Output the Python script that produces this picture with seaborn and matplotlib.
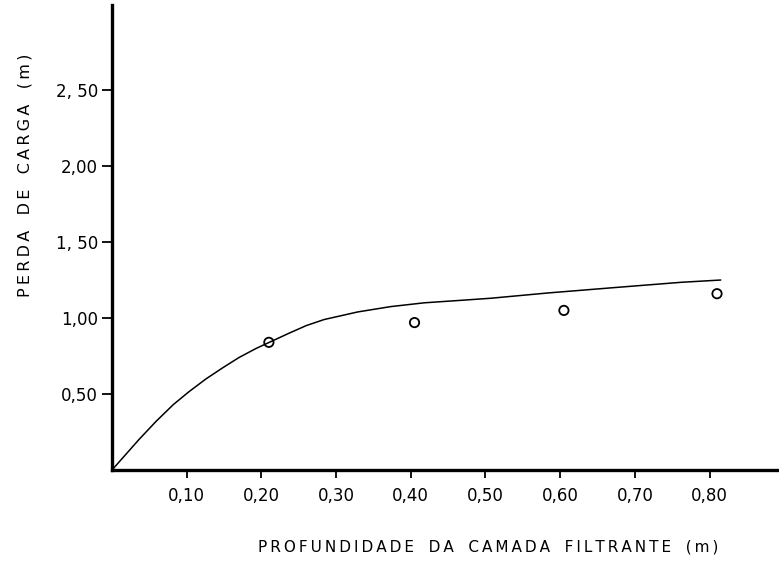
import matplotlib
matplotlib.use("Agg")
import matplotlib.pyplot as plt
import seaborn as sns
import pandas as pd

# measured points (depth of filter bed vs head loss)
depth_pts = [0.21, 0.405, 0.605, 0.81]
loss_pts = [0.84, 0.97, 1.05, 1.16]

# hand-drawn curve
depth_curve = [0.0, 0.036, 0.059, 0.082, 0.103, 0.126, 0.149, 0.170, 0.193, 0.237, 0.260,
               0.284, 0.329, 0.373, 0.418, 0.463, 0.507, 0.584, 0.672, 0.762, 0.815]
loss_curve = [0.0, 0.20, 0.32, 0.43, 0.515, 0.60, 0.675, 0.74, 0.80, 0.90, 0.95,
              0.99, 1.04, 1.075, 1.10, 1.115, 1.13, 1.165, 1.20, 1.235, 1.25]

x_ticks = [0.10, 0.20, 0.30, 0.40, 0.50, 0.60, 0.70, 0.80]
x_labels = ["0,10", "0,20", "0,30", "0,40", "0,50", "0,60", "0,70", "0,80"]
y_ticks = [0.50, 1.00, 1.50, 2.00, 2.50]
y_labels = ["0,50", "1,00", "1, 50", "2,00", "2, 50"]


def spaced(s):
    # old typewriter style lettering: thin space between letters
    words = s.split(" ")
    return "   ".join("\u2009".join(w) for w in words)


sns.set_style("ticks")
plt.rcParams["font.family"] = ["DejaVu Sans"]
plt.rcParams["text.color"] = "black"
plt.rcParams["xtick.color"] = "black"
plt.rcParams["ytick.color"] = "black"
plt.rcParams["axes.labelcolor"] = "black"
plt.rcParams["axes.edgecolor"] = "black"

df_curve = pd.DataFrame({"depth": depth_curve, "loss": loss_curve})
df_pts = pd.DataFrame({"depth": depth_pts, "loss": loss_pts})

fig = plt.figure(figsize=(7.79, 5.64), dpi=100)
ax = fig.add_axes([0.1438, 0.1667, 0.8562, 0.8245])

sns.lineplot(data=df_curve, x="depth", y="loss", color="black", linewidth=1.1, ax=ax)
sns.scatterplot(
    data=df_pts,
    x="depth",
    y="loss",
    s=45,
    facecolors="none",
    edgecolor="black",
    linewidth=1.3,
    ax=ax,
)

ax.set_xlim(0, 0.893)
ax.set_ylim(0, 3.06)
ax.set_xticks(x_ticks)
ax.set_xticklabels(x_labels)
ax.set_yticks(y_ticks)
ax.set_yticklabels(y_labels)

sns.despine(ax=ax)
ax.spines["left"].set_linewidth(2.4)
ax.spines["bottom"].set_linewidth(2.4)
ax.tick_params(axis="x", direction="out", length=6, width=1.3, pad=6, labelsize=12)
ax.tick_params(axis="y", direction="out", length=7, width=1.3, pad=3, labelsize=12)

ax.set_xlabel(spaced("PROFUNDIDADE DA CAMADA FILTRANTE (m)"), fontsize=11)
ax.set_ylabel(spaced("PERDA DE CARGA (m)"), fontsize=11.5)
ax.xaxis.set_label_coords((488 - 112) / 667, -(547 - 470) / 465)
ax.yaxis.set_label_coords(-(112 - 25) / 667, (470 - 175) / 465)
ax.xaxis.label.set_va("center")
ax.yaxis.label.set_va("center")

fig.savefig("out.png", dpi=100)
